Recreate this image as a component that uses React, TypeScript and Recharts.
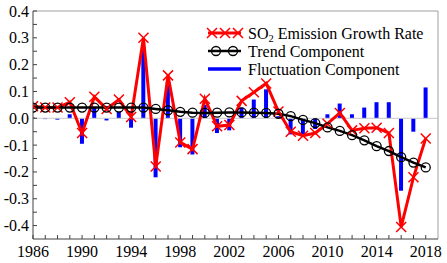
import React from "react";
import { ComposedChart, Line, Bar, XAxis, YAxis, ReferenceLine, Legend } from "recharts";

const years = [
  1986, 1987, 1988, 1989, 1990, 1991, 1992, 1993, 1994, 1995, 1996, 1997, 1998, 1999, 2000, 2001, 2002,
  2003, 2004, 2005, 2006, 2007, 2008, 2009, 2010, 2011, 2012, 2013, 2014, 2015, 2016, 2017, 2018,
];
const growthRate = [
  0.045, 0.04, 0.04, 0.06, -0.055, 0.08, 0.035, 0.07, 0.005, 0.3, -0.18, 0.16, -0.09, -0.115, 0.073,
  -0.03, -0.025, 0.065, 0.097, 0.13, 0.025, -0.05, -0.065, -0.055, -0.02, 0.02, -0.045, -0.037, -0.035,
  -0.055, -0.405, -0.22, -0.075,
];
const trend = [
  0.04, 0.04, 0.04, 0.04, 0.04, 0.04, 0.04, 0.04, 0.04, 0.04, 0.035, 0.03, 0.024, 0.021, 0.02, 0.021,
  0.022, 0.022, 0.021, 0.02, 0.017, 0.008, -0.006, -0.018, -0.034, -0.047, -0.063, -0.082, -0.104,
  -0.122, -0.145, -0.165, -0.183,
];
const fluctuation = [
  0.003, -0.003, -0.005, 0.015, -0.095, 0.04, -0.008, 0.025, -0.035, 0.26, -0.22, 0.135, -0.108, -0.135,
  0.05, -0.055, -0.045, 0.04, 0.07, 0.108, 0.008, -0.06, -0.06, -0.04, 0.015, 0.055, 0.015, 0.04, 0.06,
  0.06, -0.27, -0.05, 0.115,
];
const yTicks = [-0.4, -0.35, -0.3, -0.25, -0.2, -0.15, -0.1, -0.05, 0, 0.05, 0.1, 0.15, 0.2, 0.25, 0.3, 0.35, 0.4];

const data = years.map((year, i) => ({
  year,
  rate: growthRate[i],
  trend: trend[i],
  fluct: fluctuation[i],
}));

const FONT = "'Liberation Serif', 'DejaVu Serif', serif";
const AXIS = "#404040";

const XTick = ({ x, y, payload }: any) => {
  const major = (payload.value - 1986) % 4 === 0;
  return (
    <g>
      <line x1={x} x2={x} y1={y} y2={y - 4} stroke={AXIS} strokeWidth={1} />
      {major && (
        <text className="serif" x={x} y={y + 18} textAnchor="middle" fontSize={16} fill="#000">
          {payload.value}
        </text>
      )}
    </g>
  );
};

const YTick = ({ x, y, payload }: any) => {
  const major = Math.round(payload.value * 20) % 2 === 0;
  return (
    <g>
      <line x1={x} x2={x + 4} y1={y} y2={y} stroke={AXIS} strokeWidth={1} />
      {major && (
        <text className="serif" x={x - 4} y={y + 5.5} textAnchor="end" fontSize={16} fill="#000">
          {payload.value.toFixed(1)}
        </text>
      )}
    </g>
  );
};

const Cross = ({ cx, cy }: any) => {
  if (cx == null || cy == null) return null;
  const s = 5;
  return (
    <path
      d={`M${cx - s},${cy - s}L${cx + s},${cy + s}M${cx - s},${cy + s}L${cx + s},${cy - s}`}
      stroke="#ff0000"
      strokeWidth={1.5}
      fill="none"
    />
  );
};

const Ring = ({ cx, cy }: any) => {
  if (cx == null || cy == null) return null;
  return <circle cx={cx} cy={cy} r={4.5} stroke="#000" strokeWidth={1.3} fill="none" />;
};

const LegendBox = () => (
  <svg width={240} height={62} style={{ overflow: "visible" }}>
    <g transform="translate(0,11)">
      <line x1={3} x2={36} y1={0} y2={0} stroke="#ff0000" strokeWidth={3} />
      {[7, 20, 33].map((cx) => (
        <Cross key={cx} cx={cx} cy={0} />
      ))}
      <text className="serif" x={43} y={5.5} fontSize={16}>
        SO
        <tspan fontSize={10.5} dy={3}>2</tspan>
        <tspan dy={-3}> Emission Growth Rate</tspan>
      </text>
    </g>
    <g transform="translate(0,29)">
      <line x1={3} x2={36} y1={0} y2={0} stroke="#000" strokeWidth={2.5} />
      {[11, 28].map((cx) => (
        <Ring key={cx} cx={cx} cy={0} />
      ))}
      <text className="serif" x={43} y={5.5} fontSize={16}>
        Trend Component
      </text>
    </g>
    <g transform="translate(0,47)">
      <line x1={3} x2={36} y1={0} y2={0} stroke="#0000ff" strokeWidth={3.5} />
      <text className="serif" x={43} y={5.5} fontSize={16}>
        Fluctuation Component
      </text>
    </g>
  </svg>
);

export default function App() {
  return (
    <div style={{ position: "absolute", left: 0, top: 0, width: 447, height: 263, background: "#fff" }}>
      <style>{`.serif, .serif tspan { font-family: ${FONT} !important; }`}</style>
      <ComposedChart width={447} height={263} data={data} margin={{ top: 11, right: 9, bottom: 0, left: 0 }}>
        <XAxis
          dataKey="year"
          type="number"
          domain={[1986, 2019]}
          ticks={years}
          interval={0}
          tick={<XTick />}
          tickSize={0}
          tickMargin={0}
          height={24}
          stroke={AXIS}
          allowDataOverflow
        />
        <YAxis
          type="number"
          domain={[-0.45, 0.4]}
          ticks={yTicks}
          interval={0}
          tick={<YTick />}
          tickSize={0}
          tickMargin={0}
          width={33}
          stroke={AXIS}
          allowDataOverflow
        />
        <ReferenceLine y={0} stroke="#c8c8c8" strokeWidth={1} />
        <ReferenceLine y={0.4} stroke="#a0a0a0" strokeWidth={1} />
        <ReferenceLine x={2019} stroke="#a0a0a0" strokeWidth={1} />
        <Line
          dataKey="rate"
          stroke="#ff0000"
          strokeWidth={3}
          dot={<Cross />}
          activeDot={false}
          isAnimationActive={false}
        />
        <Bar dataKey="fluct" fill="#0000ff" barSize={4} isAnimationActive={false} />
        <Line
          dataKey="trend"
          stroke="#000"
          strokeWidth={2.5}
          dot={<Ring />}
          activeDot={false}
          isAnimationActive={false}
        />
        <Legend
          layout="horizontal"
          verticalAlign="middle"
          align="center"
          content={<LegendBox />}
          wrapperStyle={{ left: 205, top: 22, width: 240, height: 62 }}
        />
      </ComposedChart>
    </div>
  );
}
